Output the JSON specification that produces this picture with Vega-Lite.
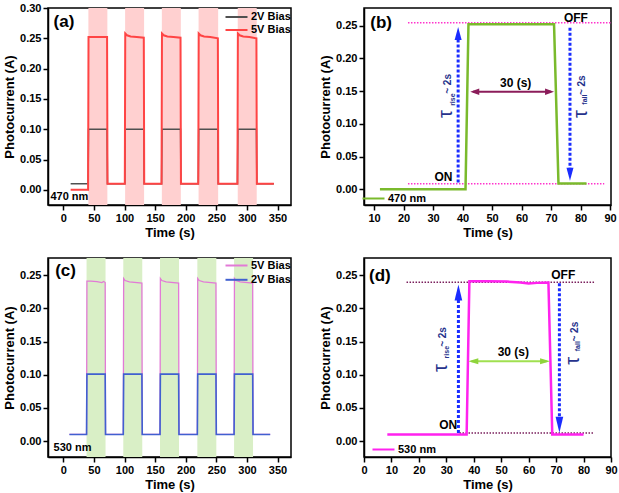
{
"$schema": "https://vega.github.io/schema/vega-lite/v6.json",
"background": "white",
"padding": {"left": 2, "top": 1, "right": 2, "bottom": 2},
"columns": 2,
"bounds": "flush",
"spacing": {"row": 53, "column": 73},
"resolve": {"scale": {"color": "independent"}},
"datasets": {
"a_lines": [
{"t":12,"v":0.01,"s":"2V Bias"},{"t":40.5,"v":0.01,"s":"2V Bias"},{"t":41.2,"v":0.1,"s":"2V Bias"},{"t":71.5,"v":0.1,"s":"2V Bias"},{"t":72.2,"v":0.01,"s":"2V Bias"},{"t":100.5,"v":0.01,"s":"2V Bias"},{"t":101.2,"v":0.1,"s":"2V Bias"},{"t":131.5,"v":0.1,"s":"2V Bias"},{"t":132.2,"v":0.01,"s":"2V Bias"},{"t":160.5,"v":0.01,"s":"2V Bias"},{"t":161.2,"v":0.1,"s":"2V Bias"},{"t":191.5,"v":0.1,"s":"2V Bias"},{"t":192.2,"v":0.01,"s":"2V Bias"},{"t":220.5,"v":0.01,"s":"2V Bias"},{"t":221.2,"v":0.1,"s":"2V Bias"},{"t":252.5,"v":0.1,"s":"2V Bias"},{"t":253.2,"v":0.01,"s":"2V Bias"},{"t":284.5,"v":0.01,"s":"2V Bias"},{"t":285.2,"v":0.1,"s":"2V Bias"},{"t":315.5,"v":0.1,"s":"2V Bias"},{"t":316.2,"v":0.01,"s":"2V Bias"},{"t":344,"v":0.01,"s":"2V Bias"},
{"t":12,"v":0,"s":"5V Bias"},{"t":40.5,"v":0,"s":"5V Bias"},{"t":41.2,"v":0.252,"s":"5V Bias"},{"t":71.5,"v":0.252,"s":"5V Bias"},{"t":72.2,"v":0.01,"s":"5V Bias"},{"t":100.5,"v":0.01,"s":"5V Bias"},{"t":101.2,"v":0.258,"s":"5V Bias"},{"t":104,"v":0.255,"s":"5V Bias"},{"t":110,"v":0.253,"s":"5V Bias"},{"t":120,"v":0.252,"s":"5V Bias"},{"t":131.5,"v":0.251,"s":"5V Bias"},{"t":132.2,"v":0.01,"s":"5V Bias"},{"t":160.5,"v":0.01,"s":"5V Bias"},{"t":161.2,"v":0.258,"s":"5V Bias"},{"t":164,"v":0.255,"s":"5V Bias"},{"t":170,"v":0.253,"s":"5V Bias"},{"t":180,"v":0.252,"s":"5V Bias"},{"t":191.5,"v":0.251,"s":"5V Bias"},{"t":192.2,"v":0.01,"s":"5V Bias"},{"t":220.5,"v":0.01,"s":"5V Bias"},{"t":221.2,"v":0.258,"s":"5V Bias"},{"t":224,"v":0.255,"s":"5V Bias"},{"t":230,"v":0.253,"s":"5V Bias"},{"t":240,"v":0.252,"s":"5V Bias"},{"t":252.5,"v":0.25,"s":"5V Bias"},{"t":253.2,"v":0.01,"s":"5V Bias"},{"t":284.5,"v":0.01,"s":"5V Bias"},{"t":285.2,"v":0.258,"s":"5V Bias"},{"t":288,"v":0.255,"s":"5V Bias"},{"t":294,"v":0.253,"s":"5V Bias"},{"t":304,"v":0.252,"s":"5V Bias"},{"t":315.5,"v":0.25,"s":"5V Bias"},{"t":316.2,"v":0.01,"s":"5V Bias"},{"t":344,"v":0.01,"s":"5V Bias"}
],
"c_lines": [
{"t":10,"v":0.01,"s":"5V Bias"},{"t":38,"v":0.01,"s":"5V Bias"},{"t":38.6,"v":0.241,"s":"5V Bias"},{"t":45,"v":0.241,"s":"5V Bias"},{"t":55,"v":0.2405,"s":"5V Bias"},{"t":63,"v":0.239,"s":"5V Bias"},{"t":66,"v":0.2405,"s":"5V Bias"},{"t":68.4,"v":0.239,"s":"5V Bias"},{"t":69,"v":0.01,"s":"5V Bias"},{"t":98,"v":0.01,"s":"5V Bias"},{"t":98.6,"v":0.245,"s":"5V Bias"},{"t":101,"v":0.242,"s":"5V Bias"},{"t":108,"v":0.24,"s":"5V Bias"},{"t":128.4,"v":0.238,"s":"5V Bias"},{"t":129,"v":0.01,"s":"5V Bias"},{"t":158,"v":0.01,"s":"5V Bias"},{"t":158.6,"v":0.245,"s":"5V Bias"},{"t":161,"v":0.242,"s":"5V Bias"},{"t":168,"v":0.24,"s":"5V Bias"},{"t":188.4,"v":0.238,"s":"5V Bias"},{"t":189,"v":0.01,"s":"5V Bias"},{"t":219,"v":0.01,"s":"5V Bias"},{"t":219.6,"v":0.245,"s":"5V Bias"},{"t":222,"v":0.242,"s":"5V Bias"},{"t":229,"v":0.24,"s":"5V Bias"},{"t":249.4,"v":0.238,"s":"5V Bias"},{"t":250,"v":0.01,"s":"5V Bias"},{"t":279,"v":0.01,"s":"5V Bias"},{"t":279.6,"v":0.245,"s":"5V Bias"},{"t":282,"v":0.242,"s":"5V Bias"},{"t":289,"v":0.24,"s":"5V Bias"},{"t":309.4,"v":0.238,"s":"5V Bias"},{"t":310,"v":0.01,"s":"5V Bias"},{"t":338,"v":0.01,"s":"5V Bias"},
{"t":10,"v":0.01,"s":"2V Bias"},{"t":38,"v":0.01,"s":"2V Bias"},{"t":38.6,"v":0.101,"s":"2V Bias"},{"t":68.4,"v":0.101,"s":"2V Bias"},{"t":69,"v":0.01,"s":"2V Bias"},{"t":98,"v":0.01,"s":"2V Bias"},{"t":98.6,"v":0.101,"s":"2V Bias"},{"t":128.4,"v":0.101,"s":"2V Bias"},{"t":129,"v":0.01,"s":"2V Bias"},{"t":158,"v":0.01,"s":"2V Bias"},{"t":158.6,"v":0.101,"s":"2V Bias"},{"t":188.4,"v":0.101,"s":"2V Bias"},{"t":189,"v":0.01,"s":"2V Bias"},{"t":219,"v":0.01,"s":"2V Bias"},{"t":219.6,"v":0.101,"s":"2V Bias"},{"t":249.4,"v":0.101,"s":"2V Bias"},{"t":250,"v":0.01,"s":"2V Bias"},{"t":279,"v":0.01,"s":"2V Bias"},{"t":279.6,"v":0.101,"s":"2V Bias"},{"t":309.4,"v":0.101,"s":"2V Bias"},{"t":310,"v":0.01,"s":"2V Bias"},{"t":338,"v":0.01,"s":"2V Bias"}
]
},
"concat": [
{
"width": 243, "height": 197,
"layer": [
{"data": {"values": [{"x1":41,"x2":72},{"x1":101,"x2":132},{"x1":161,"x2":192},{"x1":221,"x2":253},{"x1":285,"x2":316}]},
 "mark": {"type": "rect", "color": "#ffd0d0"},
 "encoding": {"x": {"field": "x1", "type": "quantitative", "scale": {"domain": [-25, 372], "nice": false, "zero": false}}, "x2": {"field": "x2"}}},
{"data": {"name": "a_lines"}, "transform": [{"filter": "datum.s == '2V Bias'"}],
 "mark": {"type": "line", "strokeWidth": 1.5},
 "encoding": {
  "x": {"field": "t", "type": "quantitative", "scale": {"domain": [-25, 372], "nice": false, "zero": false},
        "axis": {"title": "Time (s)", "values": [0,50,100,150,200,250,300,350], "tickCount": 100, "format": "d"}},
  "y": {"field": "v", "type": "quantitative", "scale": {"domain": [-0.025, 0.3], "nice": false, "zero": false},
        "axis": {"title": "Photocurrent (A)", "values": [0,0.05,0.1,0.15,0.2,0.25,0.3], "tickCount": 100, "format": ".2f"}},
  "color": {"field": "s", "type": "nominal", "scale": {"domain": ["2V Bias", "5V Bias"], "range": ["#505050", "#ff4444"]},
            "legend": {"title": null, "orient": "none", "legendX": 182, "legendY": 2.5, "rowPadding": 1}}}},
{"data": {"name": "a_lines"}, "transform": [{"filter": "datum.s == '5V Bias'"}],
 "mark": {"type": "line", "strokeWidth": 2},
 "encoding": {
  "x": {"field": "t", "type": "quantitative", "scale": {"domain": [-25, 372], "nice": false, "zero": false}},
  "y": {"field": "v", "type": "quantitative", "scale": {"domain": [-0.025, 0.3], "nice": false, "zero": false}},
  "color": {"field": "s", "type": "nominal", "scale": {"domain": ["2V Bias", "5V Bias"], "range": ["#505050", "#ff4444"]}}}},
{"data": {"values": [{"x": 1, "y": 0.277, "label": "(a)"}]},
 "mark": {"type": "text", "fontSize": 17},
 "encoding": {"x": {"field": "x", "type": "quantitative", "scale": {"domain": [-25, 372], "nice": false, "zero": false}},
              "y": {"field": "y", "type": "quantitative", "scale": {"domain": [-0.025, 0.3], "nice": false, "zero": false}},
              "text": {"field": "label"}}},
{"data": {"values": [{"x": -21, "y": -0.011, "label": "470 nm"}]},
 "mark": {"type": "text", "fontSize": 11, "align": "left"},
 "encoding": {"x": {"field": "x", "type": "quantitative", "scale": {"domain": [-25, 372], "nice": false, "zero": false}},
              "y": {"field": "y", "type": "quantitative", "scale": {"domain": [-0.025, 0.3], "nice": false, "zero": false}},
              "text": {"field": "label"}}}
]
},
{
"width": 247, "height": 197,
"layer": [
{"data": {"values": [{"x1": 21.5, "x2": 90.3, "y": 0.2545}, {"x1": 21.5, "x2": 88, "y": 0.0085}]},
 "mark": {"type": "rule", "color": "#ff33cc", "strokeWidth": 1.5, "strokeDash": [1.5, 1.5]},
 "encoding": {"x": {"field": "x1", "type": "quantitative", "scale": {"domain": [6.6, 90.3], "nice": false, "zero": false}}, "x2": {"field": "x2"},
              "y": {"field": "y", "type": "quantitative", "scale": {"domain": [-0.024, 0.277], "nice": false, "zero": false}}}},
{"data": {"values": [{"t":12,"v":0,"s":"470 nm"},{"t":41,"v":0,"s":"470 nm"},{"t":42,"v":0.252,"s":"470 nm"},{"t":56,"v":0.252,"s":"470 nm"},{"t":71,"v":0.252,"s":"470 nm"},{"t":72.5,"v":0.009,"s":"470 nm"},{"t":82,"v":0.009,"s":"470 nm"}]},
 "mark": {"type": "line", "strokeWidth": 2.5},
 "encoding": {
  "x": {"field": "t", "type": "quantitative", "scale": {"domain": [6.6, 90.3], "nice": false, "zero": false},
        "axis": {"title": "Time (s)", "values": [10,20,30,40,50,60,70,80,90], "tickCount": 100, "format": "d"}},
  "y": {"field": "v", "type": "quantitative", "scale": {"domain": [-0.024, 0.277], "nice": false, "zero": false},
        "axis": {"title": "Photocurrent (A)", "values": [0,0.05,0.1,0.15,0.2,0.25], "tickCount": 100, "format": ".2f"}},
  "color": {"field": "s", "type": "nominal", "scale": {"domain": ["470 nm"], "range": ["#7aba2c"]},
            "legend": {"title": null, "orient": "none", "legendX": 3, "legendY": 184}}}},
{"data": {"values": [{"x": 38.5, "y1": 0.0105, "y2": 0.236}, {"x": 76.4, "y1": 0.247, "y2": 0.028}]},
 "mark": {"type": "rule", "color": "#1a2cff", "strokeWidth": 3, "strokeDash": [3, 2]},
 "encoding": {"x": {"field": "x", "type": "quantitative", "scale": {"domain": [6.6, 90.3], "nice": false, "zero": false}},
              "y": {"field": "y1", "type": "quantitative", "scale": {"domain": [-0.024, 0.277], "nice": false, "zero": false}}, "y2": {"field": "y2"}}},
{"data": {"values": [{"x": 38.5, "y": 0.248}]},
 "mark": {"type": "point", "shape": "M0,0L0.27,1L-0.27,1Z", "size": 676, "filled": true, "opacity": 1, "color": "#1a2cff"},
 "encoding": {"x": {"field": "x", "type": "quantitative", "scale": {"domain": [6.6, 90.3], "nice": false, "zero": false}},
              "y": {"field": "y", "type": "quantitative", "scale": {"domain": [-0.024, 0.277], "nice": false, "zero": false}}}},
{"data": {"values": [{"x": 76.4, "y": 0.013}]},
 "mark": {"type": "point", "shape": "M0,0L0.27,-1L-0.27,-1Z", "size": 676, "filled": true, "opacity": 1, "color": "#1a2cff"},
 "encoding": {"x": {"field": "x", "type": "quantitative", "scale": {"domain": [6.6, 90.3], "nice": false, "zero": false}},
              "y": {"field": "y", "type": "quantitative", "scale": {"domain": [-0.024, 0.277], "nice": false, "zero": false}}}},
{"data": {"values": [{"x1": 43.5, "x2": 70, "y": 0.149}]},
 "mark": {"type": "rule", "color": "#8b1c5a", "strokeWidth": 2},
 "encoding": {"x": {"field": "x1", "type": "quantitative", "scale": {"domain": [6.6, 90.3], "nice": false, "zero": false}}, "x2": {"field": "x2"},
              "y": {"field": "y", "type": "quantitative", "scale": {"domain": [-0.024, 0.277], "nice": false, "zero": false}}}},
{"data": {"values": [{"x": 42.6, "y": 0.149}]},
 "mark": {"type": "point", "shape": "M0,0L1,-0.35L1,0.35Z", "size": 324, "filled": true, "opacity": 1, "color": "#8b1c5a"},
 "encoding": {"x": {"field": "x", "type": "quantitative", "scale": {"domain": [6.6, 90.3], "nice": false, "zero": false}},
              "y": {"field": "y", "type": "quantitative", "scale": {"domain": [-0.024, 0.277], "nice": false, "zero": false}}}},
{"data": {"values": [{"x": 71, "y": 0.149}]},
 "mark": {"type": "point", "shape": "M0,0L-1,-0.35L-1,0.35Z", "size": 324, "filled": true, "opacity": 1, "color": "#8b1c5a"},
 "encoding": {"x": {"field": "x", "type": "quantitative", "scale": {"domain": [6.6, 90.3], "nice": false, "zero": false}},
              "y": {"field": "y", "type": "quantitative", "scale": {"domain": [-0.024, 0.277], "nice": false, "zero": false}}}},
{"data": {"values": [{"x": 12.4, "y": 0.254, "label": "(b)"}]},
 "mark": {"type": "text", "fontSize": 17},
 "encoding": {"x": {"field": "x", "type": "quantitative", "scale": {"domain": [6.6, 90.3], "nice": false, "zero": false}},
              "y": {"field": "y", "type": "quantitative", "scale": {"domain": [-0.024, 0.277], "nice": false, "zero": false}},
              "text": {"field": "label"}}},
{"data": {"values": [{"x": 33.5, "y": 0.019, "label": "ON"}, {"x": 78.4, "y": 0.262, "label": "OFF"}, {"x": 58, "y": 0.163, "label": "30 (s)"}]},
 "mark": {"type": "text", "fontSize": 12},
 "encoding": {"x": {"field": "x", "type": "quantitative", "scale": {"domain": [6.6, 90.3], "nice": false, "zero": false}},
              "y": {"field": "y", "type": "quantitative", "scale": {"domain": [-0.024, 0.277], "nice": false, "zero": false}},
              "text": {"field": "label"}}},
{"data": {"values": [{"x": 34.4, "y": 0.115, "label": "τ"}, {"x": 80, "y": 0.115, "label": "τ"}]},
 "mark": {"type": "text", "fontSize": 20, "angle": 270, "color": "#26328c", "fontWeight": "normal"},
 "encoding": {"x": {"field": "x", "type": "quantitative", "scale": {"domain": [6.6, 90.3], "nice": false, "zero": false}},
              "y": {"field": "y", "type": "quantitative", "scale": {"domain": [-0.024, 0.277], "nice": false, "zero": false}},
              "text": {"field": "label"}}},
{"data": {"values": [{"x": 36.8, "y": 0.137, "label": "rise"}, {"x": 81.6, "y": 0.137, "label": "fall"}]},
 "mark": {"type": "text", "fontSize": 7, "angle": 270, "color": "#26328c"},
 "encoding": {"x": {"field": "x", "type": "quantitative", "scale": {"domain": [6.6, 90.3], "nice": false, "zero": false}},
              "y": {"field": "y", "type": "quantitative", "scale": {"domain": [-0.024, 0.277], "nice": false, "zero": false}},
              "text": {"field": "label"}}},
{"data": {"values": [{"x": 35.2, "y": 0.161, "label": "~ 2s"}, {"x": 80.4, "y": 0.159, "label": "~ 2s"}]},
 "mark": {"type": "text", "fontSize": 10, "angle": 270, "color": "#26328c"},
 "encoding": {"x": {"field": "x", "type": "quantitative", "scale": {"domain": [6.6, 90.3], "nice": false, "zero": false}},
              "y": {"field": "y", "type": "quantitative", "scale": {"domain": [-0.024, 0.277], "nice": false, "zero": false}},
              "text": {"field": "label"}}}
]
},
{
"width": 243, "height": 199,
"layer": [
{"data": {"values": [{"x1":38,"x2":69},{"x1":98,"x2":129},{"x1":158,"x2":189},{"x1":219,"x2":250},{"x1":279,"x2":310}]},
 "mark": {"type": "rect", "color": "#d9efc6"},
 "encoding": {"x": {"field": "x1", "type": "quantitative", "scale": {"domain": [-25, 372], "nice": false, "zero": false}}, "x2": {"field": "x2"}}},
{"data": {"name": "c_lines"}, "transform": [{"filter": "datum.s == '5V Bias'"}],
 "mark": {"type": "line", "strokeWidth": 1.3},
 "encoding": {
  "x": {"field": "t", "type": "quantitative", "scale": {"domain": [-25, 372], "nice": false, "zero": false},
        "axis": {"title": "Time (s)", "values": [0,50,100,150,200,250,300,350], "tickCount": 100, "format": "d"}},
  "y": {"field": "v", "type": "quantitative", "scale": {"domain": [-0.024, 0.276], "nice": false, "zero": false},
        "axis": {"title": "Photocurrent (A)", "values": [0,0.05,0.1,0.15,0.2,0.25], "tickCount": 100, "format": ".2f"}},
  "color": {"field": "s", "type": "nominal", "scale": {"domain": ["5V Bias", "2V Bias"], "range": ["#e27ad6", "#4060d0"]},
            "legend": {"title": null, "orient": "none", "legendX": 182, "legendY": 1, "rowPadding": 2.3}}}},
{"data": {"name": "c_lines"}, "transform": [{"filter": "datum.s == '2V Bias'"}],
 "mark": {"type": "line", "strokeWidth": 1.6},
 "encoding": {
  "x": {"field": "t", "type": "quantitative", "scale": {"domain": [-25, 372], "nice": false, "zero": false}},
  "y": {"field": "v", "type": "quantitative", "scale": {"domain": [-0.024, 0.276], "nice": false, "zero": false}},
  "color": {"field": "s", "type": "nominal", "scale": {"domain": ["5V Bias", "2V Bias"], "range": ["#e27ad6", "#4060d0"]}}}},
{"data": {"values": [{"x": 3.7, "y": 0.256, "label": "(c)"}]},
 "mark": {"type": "text", "fontSize": 17},
 "encoding": {"x": {"field": "x", "type": "quantitative", "scale": {"domain": [-25, 372], "nice": false, "zero": false}},
              "y": {"field": "y", "type": "quantitative", "scale": {"domain": [-0.024, 0.276], "nice": false, "zero": false}},
              "text": {"field": "label"}}},
{"data": {"values": [{"x": -16, "y": -0.011, "label": "530 nm"}]},
 "mark": {"type": "text", "fontSize": 11, "align": "left"},
 "encoding": {"x": {"field": "x", "type": "quantitative", "scale": {"domain": [-25, 372], "nice": false, "zero": false}},
              "y": {"field": "y", "type": "quantitative", "scale": {"domain": [-0.024, 0.276], "nice": false, "zero": false}},
              "text": {"field": "label"}}}
]
},
{
"width": 247, "height": 199,
"layer": [
{"data": {"values": [{"x1": 15.5, "x2": 84, "y": 0.2395}, {"x1": 34.8, "x2": 84, "y": 0.0122}]},
 "mark": {"type": "rule", "color": "#7a1f5c", "strokeWidth": 1.5, "strokeDash": [1.5, 1.5]},
 "encoding": {"x": {"field": "x1", "type": "quantitative", "scale": {"domain": [0, 90], "nice": false, "zero": false}}, "x2": {"field": "x2"},
              "y": {"field": "y", "type": "quantitative", "scale": {"domain": [-0.024, 0.276], "nice": false, "zero": false}}}},
{"data": {"values": [{"t":8.5,"v":0.01,"s":"530 nm"},{"t":37.4,"v":0.01,"s":"530 nm"},{"t":38.4,"v":0.241,"s":"530 nm"},{"t":45,"v":0.241,"s":"530 nm"},{"t":52,"v":0.2405,"s":"530 nm"},{"t":57,"v":0.239,"s":"530 nm"},{"t":60,"v":0.2375,"s":"530 nm"},{"t":63,"v":0.2385,"s":"530 nm"},{"t":67.2,"v":0.239,"s":"530 nm"},{"t":68.6,"v":0.01,"s":"530 nm"},{"t":80,"v":0.01,"s":"530 nm"}]},
 "mark": {"type": "line", "strokeWidth": 2.5},
 "encoding": {
  "x": {"field": "t", "type": "quantitative", "scale": {"domain": [0, 90], "nice": false, "zero": false},
        "axis": {"title": "Time (s)", "values": [0,10,20,30,40,50,60,70,80,90], "tickCount": 100, "format": "d"}},
  "y": {"field": "v", "type": "quantitative", "scale": {"domain": [-0.024, 0.276], "nice": false, "zero": false},
        "axis": {"title": "Photocurrent (A)", "values": [0,0.05,0.1,0.15,0.2,0.25], "tickCount": 100, "format": ".2f"}},
  "color": {"field": "s", "type": "nominal", "scale": {"domain": ["530 nm"], "range": ["#ff22ee"]},
            "legend": {"title": null, "orient": "none", "legendX": 13, "legendY": 185}}}},
{"data": {"values": [{"x": 34.4, "y1": 0.012, "y2": 0.224}, {"x": 71.2, "y1": 0.238, "y2": 0.03}]},
 "mark": {"type": "rule", "color": "#1a2cff", "strokeWidth": 3, "strokeDash": [3, 2]},
 "encoding": {"x": {"field": "x", "type": "quantitative", "scale": {"domain": [0, 90], "nice": false, "zero": false}},
              "y": {"field": "y1", "type": "quantitative", "scale": {"domain": [-0.024, 0.276], "nice": false, "zero": false}}, "y2": {"field": "y2"}}},
{"data": {"values": [{"x": 34.4, "y": 0.236}]},
 "mark": {"type": "point", "shape": "M0,0L0.24,1L-0.24,1Z", "size": 1024, "filled": true, "opacity": 1, "color": "#1a2cff"},
 "encoding": {"x": {"field": "x", "type": "quantitative", "scale": {"domain": [0, 90], "nice": false, "zero": false}},
              "y": {"field": "y", "type": "quantitative", "scale": {"domain": [-0.024, 0.276], "nice": false, "zero": false}}}},
{"data": {"values": [{"x": 71.2, "y": 0.0126}]},
 "mark": {"type": "point", "shape": "M0,0L0.24,-1L-0.24,-1Z", "size": 1024, "filled": true, "opacity": 1, "color": "#1a2cff"},
 "encoding": {"x": {"field": "x", "type": "quantitative", "scale": {"domain": [0, 90], "nice": false, "zero": false}},
              "y": {"field": "y", "type": "quantitative", "scale": {"domain": [-0.024, 0.276], "nice": false, "zero": false}}}},
{"data": {"values": [{"x1": 39.2, "x2": 66.5, "y": 0.1205}]},
 "mark": {"type": "rule", "color": "#a0e050", "strokeWidth": 2},
 "encoding": {"x": {"field": "x1", "type": "quantitative", "scale": {"domain": [0, 90], "nice": false, "zero": false}}, "x2": {"field": "x2"},
              "y": {"field": "y", "type": "quantitative", "scale": {"domain": [-0.024, 0.276], "nice": false, "zero": false}}}},
{"data": {"values": [{"x": 38, "y": 0.1205}]},
 "mark": {"type": "point", "shape": "M0,0L1,-0.3L1,0.3Z", "size": 400, "filled": true, "opacity": 1, "color": "#8fd43c"},
 "encoding": {"x": {"field": "x", "type": "quantitative", "scale": {"domain": [0, 90], "nice": false, "zero": false}},
              "y": {"field": "y", "type": "quantitative", "scale": {"domain": [-0.024, 0.276], "nice": false, "zero": false}}}},
{"data": {"values": [{"x": 67.8, "y": 0.1205}]},
 "mark": {"type": "point", "shape": "M0,0L-1,-0.3L-1,0.3Z", "size": 400, "filled": true, "opacity": 1, "color": "#8fd43c"},
 "encoding": {"x": {"field": "x", "type": "quantitative", "scale": {"domain": [0, 90], "nice": false, "zero": false}},
              "y": {"field": "y", "type": "quantitative", "scale": {"domain": [-0.024, 0.276], "nice": false, "zero": false}}}},
{"data": {"values": [{"x": 5.8, "y": 0.249, "label": "(d)"}]},
 "mark": {"type": "text", "fontSize": 17},
 "encoding": {"x": {"field": "x", "type": "quantitative", "scale": {"domain": [0, 90], "nice": false, "zero": false}},
              "y": {"field": "y", "type": "quantitative", "scale": {"domain": [-0.024, 0.276], "nice": false, "zero": false}},
              "text": {"field": "label"}}},
{"data": {"values": [{"x": 30.7, "y": 0.0236, "label": "ON"}, {"x": 72.6, "y": 0.251, "label": "OFF"}, {"x": 54.4, "y": 0.134, "label": "30 (s)"}]},
 "mark": {"type": "text", "fontSize": 12},
 "encoding": {"x": {"field": "x", "type": "quantitative", "scale": {"domain": [0, 90], "nice": false, "zero": false}},
              "y": {"field": "y", "type": "quantitative", "scale": {"domain": [-0.024, 0.276], "nice": false, "zero": false}},
              "text": {"field": "label"}}},
{"data": {"values": [{"x": 28.1, "y": 0.11, "label": "τ"}, {"x": 76.3, "y": 0.121, "label": "τ"}]},
 "mark": {"type": "text", "fontSize": 20, "angle": 270, "color": "#26328c", "fontWeight": "normal"},
 "encoding": {"x": {"field": "x", "type": "quantitative", "scale": {"domain": [0, 90], "nice": false, "zero": false}},
              "y": {"field": "y", "type": "quantitative", "scale": {"domain": [-0.024, 0.276], "nice": false, "zero": false}},
              "text": {"field": "label"}}},
{"data": {"values": [{"x": 30.4, "y": 0.134, "label": "rise"}, {"x": 78.1, "y": 0.143, "label": "fall"}]},
 "mark": {"type": "text", "fontSize": 7, "angle": 270, "color": "#26328c"},
 "encoding": {"x": {"field": "x", "type": "quantitative", "scale": {"domain": [0, 90], "nice": false, "zero": false}},
              "y": {"field": "y", "type": "quantitative", "scale": {"domain": [-0.024, 0.276], "nice": false, "zero": false}},
              "text": {"field": "label"}}},
{"data": {"values": [{"x": 28.9, "y": 0.157, "label": "~ 2s"}, {"x": 76.9, "y": 0.165, "label": "~ 2s"}]},
 "mark": {"type": "text", "fontSize": 10, "angle": 270, "color": "#26328c"},
 "encoding": {"x": {"field": "x", "type": "quantitative", "scale": {"domain": [0, 90], "nice": false, "zero": false}},
              "y": {"field": "y", "type": "quantitative", "scale": {"domain": [-0.024, 0.276], "nice": false, "zero": false}},
              "text": {"field": "label"}}}
]
}
],
"config": {
 "view": {"stroke": "#000", "strokeWidth": 1.5},
 "axis": {"grid": false, "domainColor": "#000", "domainWidth": 1.5, "tickColor": "#000", "tickWidth": 1.5, "tickSize": 5, "labelPadding": 2,
          "labelOverlap": false, "labelFlush": false,
          "labelFont": "Liberation Sans", "labelFontWeight": "bold", "labelFontSize": 11, "labelColor": "#000",
          "titleFont": "Liberation Sans", "titleFontWeight": "bold", "titleFontSize": 13, "titleColor": "#000"},
 "axisX": {"titlePadding": 3},
 "axisY": {"titlePadding": 3},
 "legend": {"labelFont": "Liberation Sans", "labelFontWeight": "bold", "labelFontSize": 11, "labelColor": "#000",
            "symbolType": "M-2,0H2", "symbolSize": 121, "symbolStrokeWidth": 2, "labelOffset": 8, "padding": 0, "rowPadding": 1},
 "text": {"font": "Liberation Sans", "fontWeight": "bold", "color": "#000"}
}
}
